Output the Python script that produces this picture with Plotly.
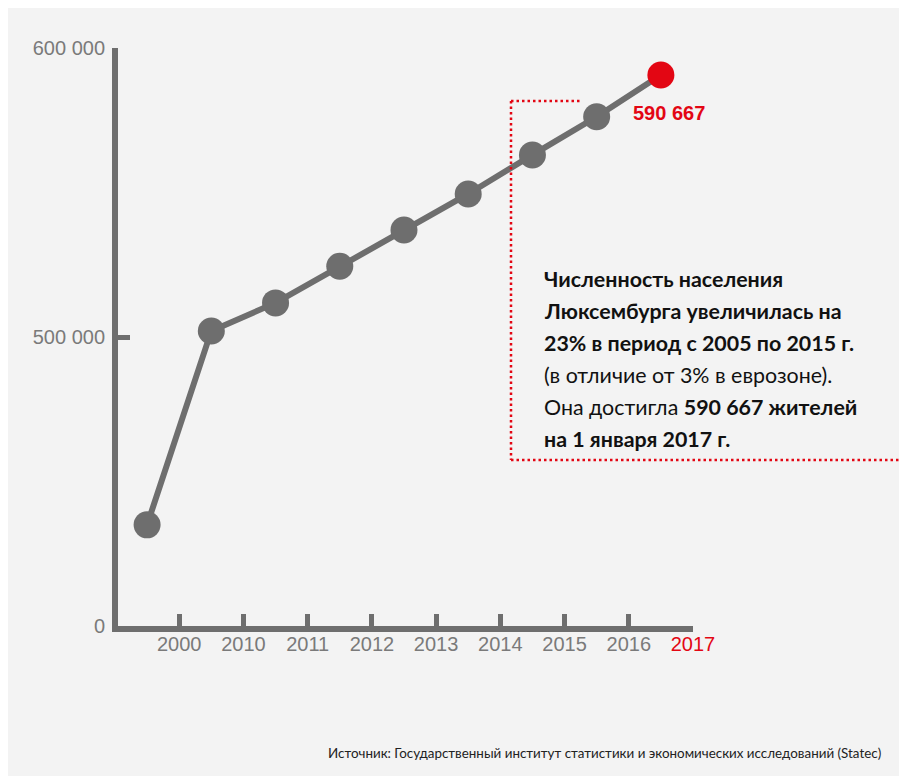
import plotly.graph_objects as go

# ---- data ----
years = ["2000", "2010", "2011", "2012", "2013", "2014", "2015", "2016", "2017"]
population = [435000, 502100, 511800, 524500, 537000, 549500, 563000, 576200, 590667]
y_tickvals = [400000, 500000, 600000]
y_ticktext = ["0", "500 000", "600 000"]
last_label = "590 667"

GRAY = "#6e6e6e"
LABEL_GRAY = "#7a7a7a"
RED = "#e30613"
BG = "#f3f3f3"

W, H = 907, 776
OFF = 8  # page offset of the figure (body margin)
L, R, T, B = 110, 222, 40, 158
PW, PH = W - L - R, H - T - B


def px(xp):
    """page x pixel -> paper coordinate"""
    return (xp - OFF - L) / PW


def py(yp):
    """page y pixel -> paper coordinate"""
    return (H - B - (yp - OFF)) / PH


xs = list(range(len(years)))
tick_pos = [i + 0.5 for i in xs]
tick_text = years[:-1] + [f"<span style='color:{RED}'>{years[-1]}</span>"]

fig = go.Figure()
fig.add_trace(go.Scatter(
    x=xs, y=population, mode="lines+markers",
    line=dict(color=GRAY, width=6),
    marker=dict(size=27, color=[GRAY] * (len(xs) - 1) + [RED], line=dict(width=0)),
    cliponaxis=False, hoverinfo="skip", showlegend=False,
))

DOT = dict(color=RED, width=2.5, dash="2.5px,3px")
shapes = [
    dict(type="line", xref="paper", yref="paper", x0=px(511), x1=px(511), y0=py(101), y1=py(460), line=DOT),
    dict(type="line", xref="paper", yref="paper", x0=px(511), x1=px(581), y0=py(101), y1=py(101), line=DOT),
    dict(type="line", xref="paper", yref="paper", x0=px(511), x1=px(906), y0=py(460), y1=py(460), line=DOT),
]

text_lines = [
    "<b>Численность населения</b>",
    "<b>Люксембурга увеличилась на</b>",
    "<b>23% в период с 2005 по 2015 г.</b>",
    "(в отличие от 3% в еврозоне).",
    "Она достигла <b>590 667 жителей</b>",
    "<b>на 1 января 2017 г.</b>",
]
line_y = [279, 311, 343, 375, 407, 439]

annotations = []
for t, yy in zip(text_lines, line_y):
    annotations.append(dict(
        xref="paper", yref="paper", x=px(542), y=py(yy), xanchor="left", yanchor="middle",
        text=t, showarrow=False, font=dict(family="Lato", size=21.4, color="#111111"),
    ))

annotations.append(dict(
    x=xs[-1], y=population[-1], xref="x", yref="y", xanchor="left", yanchor="middle",
    xshift=-30, yshift=-38, text=f"<b>{last_label}</b>", showarrow=False,
    font=dict(family="Liberation Sans", size=20, color=RED),
))

annotations.append(dict(
    xref="paper", yref="paper", x=px(883), y=py(753), xanchor="right", yanchor="middle",
    text="Источник: Государственный институт статистики и экономических исследований (Statec)",
    showarrow=False, font=dict(family="Lato", size=13.4, color="#222222"),
))

fig.update_layout(
    width=W, height=H,
    margin=dict(l=L, r=R, t=T, b=B),
    paper_bgcolor=BG, plot_bgcolor="rgba(0,0,0,0)",
    shapes=shapes, annotations=annotations,
    xaxis=dict(
        range=[-0.453, 8.5001], tickmode="array", tickvals=tick_pos, ticktext=tick_text,
        showgrid=False, zeroline=False, showline=True, linewidth=6, linecolor=GRAY,
        ticks="inside", ticklen=12, tickwidth=5, tickcolor=GRAY,
        tickfont=dict(family="Liberation Sans", size=20, color=LABEL_GRAY),
        ticklabelstandoff=-5, fixedrange=True,
    ),
    yaxis=dict(
        range=[400000, 600000], tickmode="array", tickvals=y_tickvals, ticktext=y_ticktext,
        showgrid=False, zeroline=False, showline=True, linewidth=6, linecolor=GRAY,
        ticks="inside", ticklen=12, tickwidth=5, tickcolor=GRAY,
        tickfont=dict(family="Liberation Sans", size=20, color=LABEL_GRAY),
        ticklabelstandoff=3, fixedrange=True,
    ),
)

fig.write_html("out.html", config=dict(displayModeBar=False))
